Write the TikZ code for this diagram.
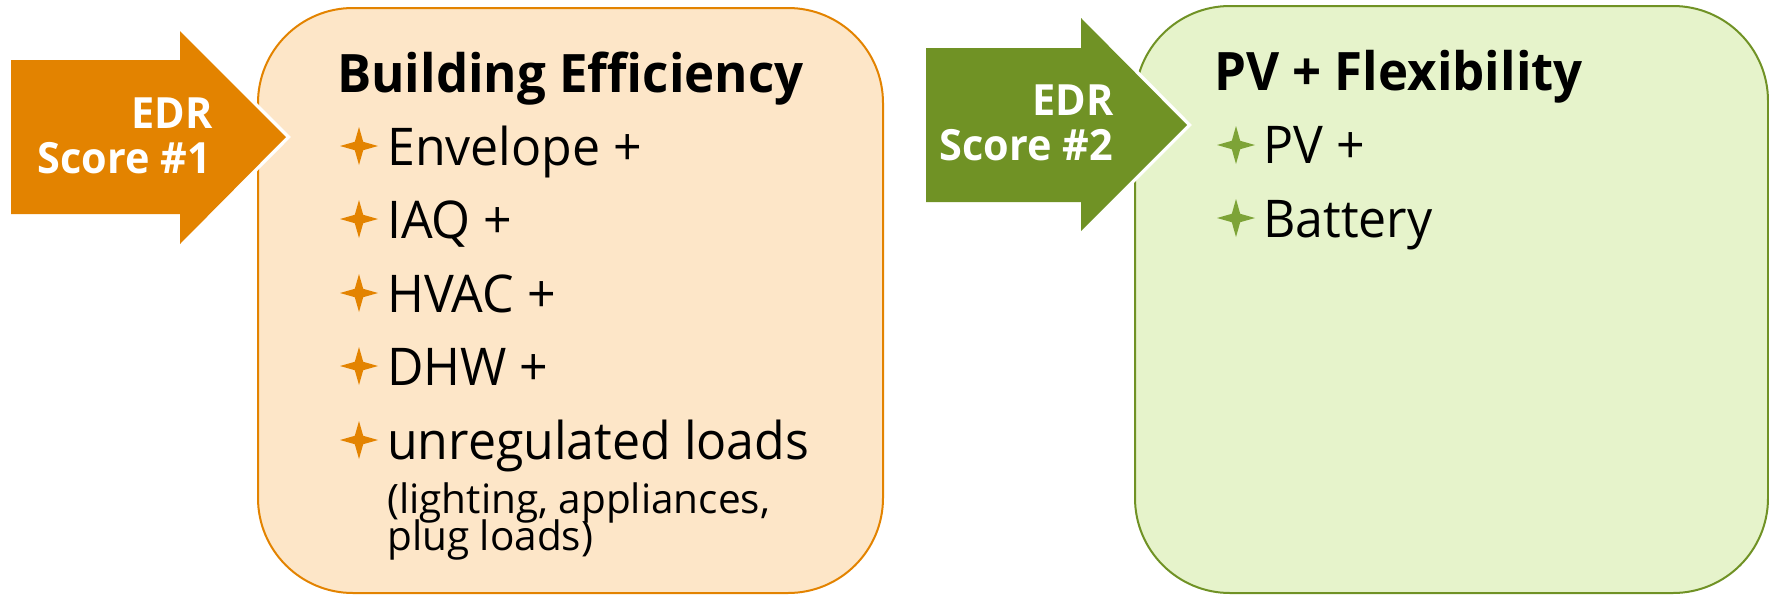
\documentclass[tikz,border=0pt]{standalone}
\usepackage{fontspec}
\setmainfont{Open Sans}[FakeStretch=0.962]
\newfontfamily\plainfont{Open Sans}
\definecolor{orangeA}{RGB}{227,131,0}
\definecolor{orangeFill}{RGB}{253,230,200}
\definecolor{greenA}{RGB}{112,146,37}
\definecolor{greenFill}{RGB}{230,243,203}
\definecolor{greenStar}{RGB}{125,163,55}
\begin{document}
\begin{tikzpicture}[x=1pt,y=-1pt,
  panel/.style={rounded corners=95pt, line width=2pt, inner sep=0pt},
  headtext/.style={anchor=base west, inner sep=0pt, font=\fontsize{53}{60}\selectfont\bfseries},
  itemtext/.style={anchor=base west, inner sep=0pt, font=\fontsize{52}{60}\selectfont},
  smalltext/.style={anchor=base west, inner sep=0pt, font=\plainfont\fontsize{40.5}{44}\selectfont},
  arrowtext/.style={anchor=base east, inner sep=0pt, text=white, font=\fontsize{43}{46}\selectfont\bfseries},
  halo/.style={draw=white, line width=7pt, line join=miter, fill=white},
  fourstar/.pic={\fill[pic actions] (0,-19) -- (4.2,-4.2) -- (19,0) -- (4.2,4.2) -- (0,19) -- (-4.2,4.2) -- (-19,0) -- (-4.2,-4.2) -- cycle;}
]
\useasboundingbox (0,0) rectangle (1769,595);

% panels
\node[panel, draw=orangeA, fill=orangeFill, minimum width=625pt, minimum height=585pt] (bebox) at (570.5,300.5) {};
\node[panel, draw=greenA, fill=greenFill, minimum width=633pt, minimum height=587pt] (pvbox) at (1451.5,299.5) {};

% arrows
\path[halo] (11,60) -- (180,60) -- (180,31) -- (286,137) -- (180,244) -- (180,214) -- (11,214) -- cycle;
\fill[orangeA] (11,60) -- (180,60) -- (180,31) -- (286,137) -- (180,244) -- (180,214) -- (11,214) -- cycle;
\path[halo] (926,48) -- (1081,48) -- (1081,18) -- (1187,125) -- (1081,231) -- (1081,202) -- (926,202) -- cycle;
\fill[greenA] (926,48) -- (1081,48) -- (1081,18) -- (1187,125) -- (1081,231) -- (1081,202) -- (926,202) -- cycle;

\node[arrowtext] (edr1a) at (213,128) {EDR};
\node[arrowtext] (edr1b) at (211,173) {Score \#1};
\node[arrowtext] (edr2a) at (1114,115) {EDR};
\node[arrowtext] (edr2b) at (1113,160) {Score \#2};

% left panel content
\node[headtext] (behead) at (337,92) {Building Efficiency};
\foreach \yy/\nm/\txt in {165/env/Envelope +, 238/iaq/IAQ +, 312/hvac/HVAC +, 385/dhw/DHW +, 459/unreg/unregulated loads}{
  \pic[orangeA] at (359,\yy-19) {fourstar};
  \node[itemtext] (\nm) at (387,\yy) {\txt};
}
\node[smalltext] (light) at (387,513) {(lighting, appliances,};
\node[smalltext] (plug) at (387,550) {plug loads)};

% right panel content
\node[headtext] (pvhead) at (1214,90) {PV + Flexibility};
\pic[greenStar] at (1236,145) {fourstar};
\node[itemtext] (pv) at (1263,163) {PV +};
\pic[greenStar] at (1236,218) {fourstar};
\node[itemtext] (batt) at (1263,237) {Battery};
\end{tikzpicture}
\end{document}
